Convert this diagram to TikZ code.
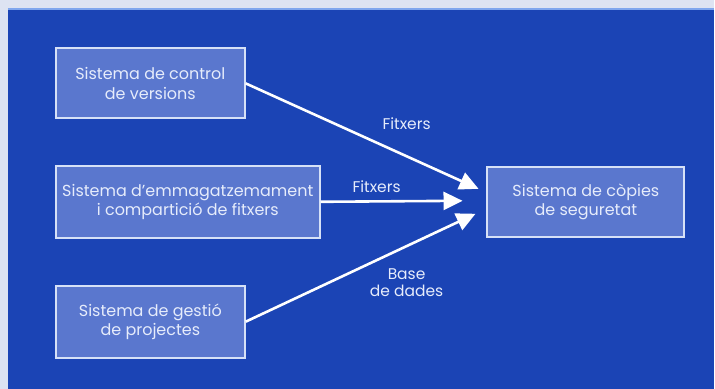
\documentclass[tikz,border=0pt]{standalone}
\usepackage{fontspec}
\setmainfont{Poppins}
\usetikzlibrary{arrows.meta}
\definecolor{pagebg}{HTML}{DDE3F2}
\definecolor{panel}{HTML}{1B44B5}
\definecolor{panelrim}{HTML}{7FA6EE}
\definecolor{boxfill}{HTML}{5A77CE}
\definecolor{boxrim}{HTML}{D6E1F7}
\definecolor{ink}{HTML}{E6ECFB}
\tikzset{
  sysbox/.style={draw=boxrim, line width=2pt, fill=boxfill, text=ink,
    align=center, font=\fontsize{16}{19.5}\selectfont, inner sep=0pt},
  flow/.style={draw=white, line width=2.6pt,
    -{Triangle[length=19pt,width=18pt]}},
  flowlabel/.style={text=ink, align=center, font=\fontsize{15.5}{17.5}\selectfont}
}
\begin{document}
\begin{tikzpicture}[x=1pt,y=-1pt]
  % page and blue panel
  \fill[pagebg] (0,0) rectangle (715,389);
  \fill[panel] (8,8) rectangle (715,389);
  \draw[panelrim, line width=1.5pt] (8,8.8) -- (715,8.8);

  % systems
  \node[sysbox, minimum width=189pt, minimum height=70pt] (vcs) at (150.5,83.5)
    {Sistema de control\\de versions};
  \node[sysbox, minimum width=264pt, minimum height=72pt] (share) at (188,202)
    {Sistema d'emmagatzemament\\i compartició de fitxers};
  \node[sysbox, minimum width=189pt, minimum height=72pt] (pm) at (150.5,322)
    {Sistema de gestió\\de projectes};
  \node[sysbox, minimum width=197pt, minimum height=70pt] (backup) at (586.5,202)
    {Sistema de còpies\\de seguretat};

  % arrow end points in front of the backup system
  \coordinate (t1) at (479,189);
  \coordinate (t2) at (463,201);
  \coordinate (t3) at (476,214);

  \draw[flow] (vcs.east) -- (t1);
  \draw[flow] (share.east) -- (t2);
  \draw[flow] (pm.east) -- (t3);

  \node[flowlabel] (l1) at (407,124) {Fitxers};
  \node[flowlabel] (l2) at (377,187) {Fitxers};
  \node[flowlabel] (l3) at (407,283) {Base\\de dades};
\end{tikzpicture}
\end{document}
